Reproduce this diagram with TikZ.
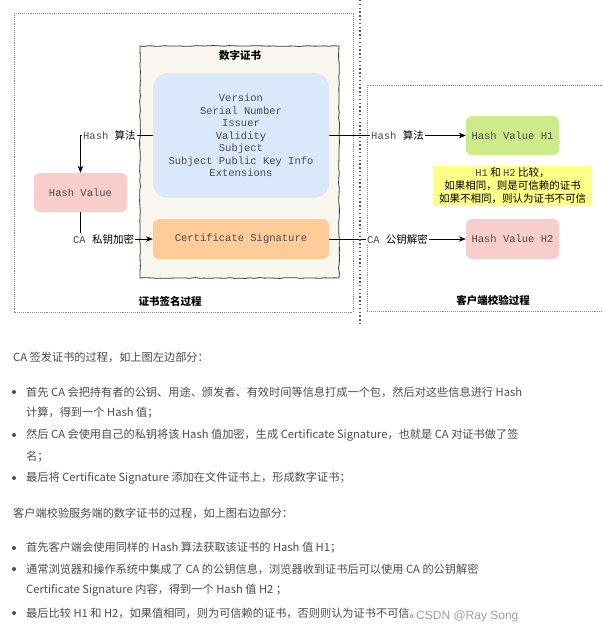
\documentclass[tikz,border=0pt]{standalone}
\usepackage{fontspec}
\usetikzlibrary{arrows.meta,decorations.pathmorphing}
\newfontfamily\cjk{Noto Sans CJK SC}
\newfontfamily\mono{Liberation Mono}
\newfontfamily\wmfont{Liberation Sans}
\definecolor{certfill}{HTML}{F9F7ED}
\definecolor{certdraw}{HTML}{36393D}
\definecolor{bluefill}{HTML}{DAE8FC}
\definecolor{orangefill}{HTML}{FFCC99}
\definecolor{pinkfill}{HTML}{F8CECC}
\definecolor{greenfill}{HTML}{CDEB8B}
\definecolor{yellowfill}{HTML}{FFFF88}
\definecolor{monogray}{HTML}{4A4A4A}
\definecolor{bodytext}{HTML}{4D4D4D}
\definecolor{dotgray}{HTML}{8A8A8A}
\definecolor{divgray}{HTML}{555555}
\definecolor{wmgray}{HTML}{A0A0A0}
\tikzset{
  fillbox/.style={inner sep=0pt, rounded corners=6pt, font=\mono\fontsize{10.5}{12.5}\selectfont, text=monogray, align=center},
  certbox/.style={draw=certdraw, fill=certfill, line width=0.8pt, inner sep=0pt,
     decorate, decoration={random steps, segment length=5pt, amplitude=0.45pt}},
  boxtitle/.style={font=\cjk\bfseries\fontsize{10.5}{12}\selectfont, text=black, inner sep=0pt},
  edgelbl/.style={fill=white, inner sep=1pt, font=\fontsize{10.5}{12}\selectfont, text=black},
  arr/.style={draw=black, line width=0.8pt, -{Stealth[length=7pt,width=5.5pt]}},
  procbox/.style={draw=dotgray, line width=0.6pt, dash pattern=on 0.8pt off 1.1pt},
  divider/.style={draw=divgray, line width=1.4pt, dash pattern=on 1.4pt off 2.4pt},
  body/.style={anchor=west, inner sep=0pt, font=\cjk\fontsize{11.2}{14}\selectfont, text=bodytext},
  bullet/.style={circle, fill=bodytext, inner sep=0pt, minimum size=4pt}
}
\begin{document}
\begin{tikzpicture}[x=1pt, y=-1pt]
\useasboundingbox (0,0) rectangle (603,633);
\fill[white] (0,0) rectangle (603,633);

% process frames
\draw[procbox] (14,13) rectangle (353,312);
\draw[procbox] (606,85) -- (367,85) -- (367,311) -- (606,311);

% certificate
\node[certbox, minimum width=199pt, minimum height=232pt] (cert) at (239.5,162) {};
\node[boxtitle] (certtitle) at (240,55) {数字证书};
\node[fillbox, fill=bluefill, rounded corners=15pt, minimum width=176pt, minimum height=125pt] (info) at (241,135.5)
  {Version\\Serial Number\\Issuer\\Validity\\Subject\\Subject Public Key Info\\Extensions};
\node[fillbox, fill=orangefill, minimum width=176pt, minimum height=40pt] (sig) at (241,239) {Certificate Signature};

% left side
\node[fillbox, fill=pinkfill, minimum width=93pt, minimum height=39pt] (hv) at (80.5,192.5) {Hash Value};

% right side
\node[fillbox, fill=greenfill, minimum width=93pt, minimum height=39pt] (h1) at (512.5,135.5) {Hash Value H1};
\node[fillbox, fill=yellowfill, rounded corners=0pt, minimum width=159pt, minimum height=40pt,
      font=\cjk\fontsize{10.5}{13}\selectfont, text=black] (cmp) at (512.5,186)
  {{\mono\color{monogray}H1} 和 {\mono\color{monogray}H2} 比较，\\如果相同，则是可信赖的证书\\如果不相同，则认为证书不可信};
\node[fillbox, fill=pinkfill, minimum width=93pt, minimum height=40pt] (h2) at (512.5,239) {Hash Value H2};

% connectors
\draw[arr] (info.west) -| (hv.north) node[edgelbl, pos=0.3] {{\mono\color{monogray}Hash\ }{\cjk 算法}};
\draw[arr] (hv.south) |- (sig.west) node[edgelbl, pos=0.66] {{\mono\color{monogray}CA\ }{\cjk 私钥加密}};
\draw[arr] (info.east) -- (h1.west) node[edgelbl, pos=0.5] {{\mono\color{monogray}Hash\ }{\cjk 算法}};
\draw[arr] (sig.east) -- (h2.west) node[edgelbl, pos=0.5] {{\mono\color{monogray}CA\ }{\cjk 公钥解密}};

% divider
\coordinate (divtop) at (360,0);
\coordinate (divbot) at (360,326);
\draw[divider] (divtop) -- (divbot);

% captions
\node[boxtitle] (leftcap) at (170,301) {证书签名过程};
\node[boxtitle] (rightcap) at (493,300) {客户端校验过程};

% body text
\node[body] (p1) at (13,357) {CA 签发证书的过程，如上图左边部分：};
\node[bullet] (b1) at (14,392) {};
\node[body] (l1) at (26,392) {首先 CA 会把持有者的公钥、用途、颁发者、有效时间等信息打成一个包，然后对这些信息进行 Hash};
\node[body] (l1b) at (26,413) {计算，得到一个 Hash 值；};
\node[bullet] (b2) at (14,435) {};
\node[body] (l2) at (26,435) {然后 CA 会使用自己的私钥将该 Hash 值加密，生成 Certificate Signature，也就是 CA 对证书做了签};
\node[body] (l2b) at (26,457) {名；};
\node[bullet] (b3) at (14,478) {};
\node[body] (l3) at (26,478) {最后将 Certificate Signature 添加在文件证书上，形成数字证书；};
\node[body] (p2) at (13,513) {客户端校验服务端的数字证书的过程，如上图右边部分：};
\node[bullet] (b4) at (14,548) {};
\node[body] (l4) at (26,548) {首先客户端会使用同样的 Hash 算法获取该证书的 Hash 值 H1；};
\node[bullet] (b5) at (14,569) {};
\node[body] (l5) at (26,569) {通常浏览器和操作系统中集成了 CA 的公钥信息，浏览器收到证书后可以使用 CA 的公钥解密};
\node[body] (l5b) at (26,590) {Certificate Signature 内容，得到一个 Hash 值 H2 ；};
\node[bullet] (b6) at (14,613) {};
\node[body] (l6) at (26,613) {最后比较 H1 和 H2，如果值相同，则为可信赖的证书，否则则认为证书不可信。};
\node[anchor=west, inner sep=0pt, font=\wmfont\fontsize{12}{14}\selectfont, text=wmgray] (wm) at (416,616) {CSDN @Ray Song};
\end{tikzpicture}
\end{document}
